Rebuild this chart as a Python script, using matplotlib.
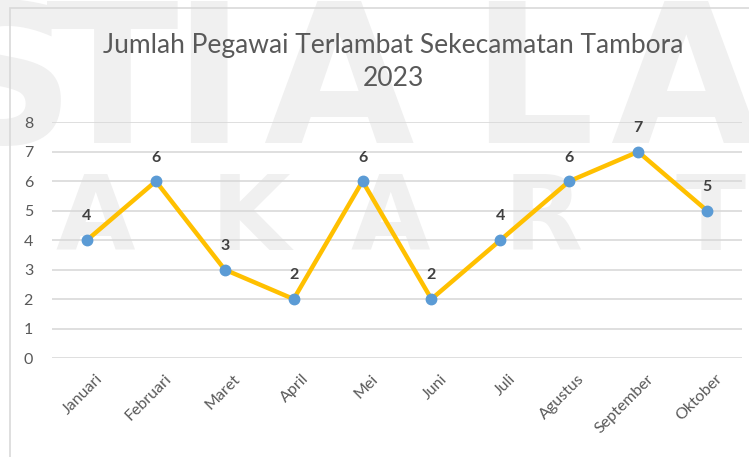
import matplotlib
matplotlib.use("Agg")
import matplotlib.pyplot as plt
from matplotlib.patches import Rectangle
import matplotlib.transforms as mtransforms

months = ["Januari", "Februari", "Maret", "April", "Mei", "Juni", "Juli",
          "Agustus", "September", "Oktober"]
values = [4, 6, 3, 2, 6, 2, 4, 6, 7, 5]
yticks = [0, 1, 2, 3, 4, 5, 6, 7, 8]
title = "Jumlah Pegawai Terlambat Sekecamatan Tambora\n2023"

plt.rcParams['font.family'] = ['Lato', 'DejaVu Sans']

W, H = 749, 457
fig = plt.figure(figsize=(W / 100, H / 100), dpi=100)
fig.patch.set_facecolor('white')

# chart frame (left and top edges visible)
fig.add_artist(Rectangle((10 / W, -0.1), 1.2, (H - 8) / H + 0.1,
                         transform=fig.transFigure, fill=False,
                         edgecolor='#d9d9d9', lw=1.2, zorder=-5))

# watermark
wm = '#f0f0f0'
top_letters = [("S", 5), ("T", 112), ("I", 208), ("A", 338), ("L", 532), ("A", 685)]
for ch, x in top_letters:
    fig.text(x / W, 1 - 143 / H, ch, ha='center', va='baseline', fontsize=140,
             fontweight='bold', color=wm, family='DejaVu Sans', zorder=-10)
bot_letters = [("A", 95), ("K", 250), ("A", 390), ("R", 543), ("T", 710)]
for ch, x in bot_letters:
    fig.text(x / W, 1 - 250 / H, ch, ha='center', va='baseline', fontsize=74,
             fontweight='bold', color=wm, family='DejaVu Sans', zorder=-10)

ax = fig.add_axes([52.5 / W, 1 - 358 / H, (741.5 - 52.5) / W, (358 - 122.3) / H])
ax.patch.set_alpha(0)
x = list(range(len(months)))
ax.plot(x, values, color='#ffc000', lw=3.2, marker='o', markersize=7.5,
        markerfacecolor='#5b9bd5', markeredgecolor='#5b9bd5', zorder=3,
        solid_joinstyle='round')
for xi, v in zip(x, values):
    ax.annotate(str(v), (xi, v), xytext=(0, 12), textcoords='offset points',
                ha='center', va='bottom', fontsize=11.5, fontweight='bold',
                color='#404040', zorder=4)

ax.set_xlim(-0.5, len(months) - 0.5)
ax.set_ylim(0, 8)
ax.set_yticks(yticks)
ax.grid(axis='y', color='#d9d9d9', lw=1.2)
ax.set_axisbelow(True)
for s in ax.spines.values():
    s.set_visible(False)
ax.tick_params(axis='both', length=0, colors='#595959', labelsize=11.5)
ax.tick_params(axis='y', pad=14)
ax.set_xticks(x)
ax.set_xticklabels(months, rotation=45, ha='right', rotation_mode='anchor')
ax.tick_params(axis='x', pad=10)
offset = mtransforms.ScaledTranslation(6 / 72, 0, fig.dpi_scale_trans)
for lbl in ax.get_xticklabels():
    lbl.set_transform(lbl.get_transform() + offset)

fig.text(393 / W, 1 - 62 / H, title, ha='center', va='center', fontsize=19,
         color='#595959', linespacing=1.42)

fig.savefig('out.png', dpi=100)
